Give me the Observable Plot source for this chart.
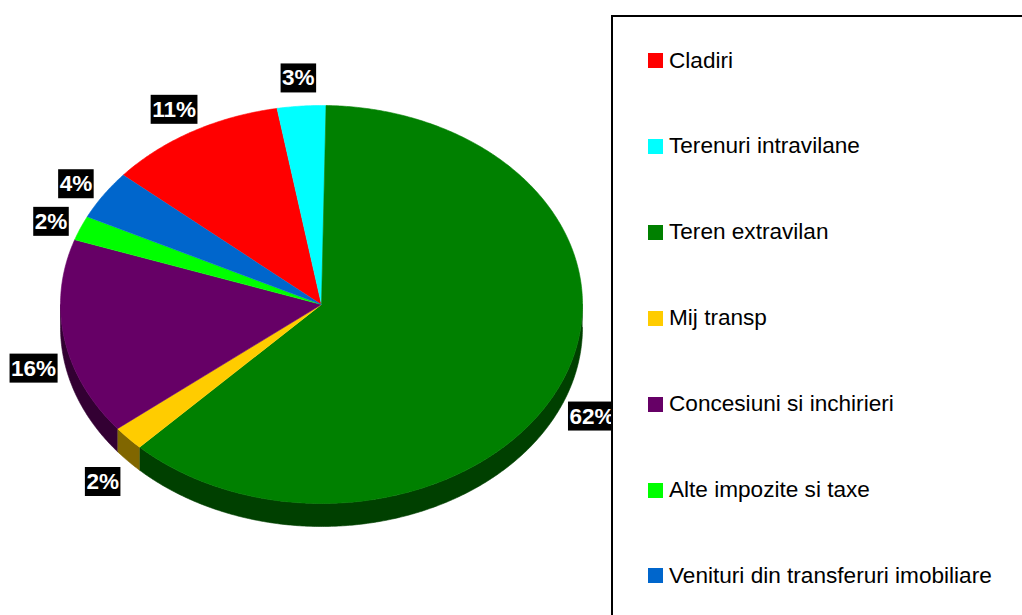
<!DOCTYPE html>
<html><head><meta charset="utf-8">
<script src="https://cdn.jsdelivr.net/npm/d3@7"></script>
<script src="https://cdn.jsdelivr.net/npm/@observablehq/plot@0.6"></script>
<style>
body{margin:0;background:#fff;overflow:hidden;font-family:Arial,"Liberation Sans",sans-serif}
#wrap{position:relative;width:1022px;height:615px;overflow:hidden;background:#fff}
#chart{position:absolute;left:0;top:0}
#legend{position:absolute;left:611px;top:15px;width:480px;height:700px;border:2px solid #000;background:#fff;box-sizing:border-box}
.item{position:absolute;left:35px;height:26px;display:flex;align-items:center;font-size:22.6px;color:#000;white-space:nowrap}
.sw{width:15px;height:15px;margin-right:6px;flex:none}
</style></head><body>
<div id="wrap"><div id="chart"></div><div id="legend"></div></div>
<script>
// ---- data ----
const categories = ["Cladiri","Terenuri intravilane","Teren extravilan","Mij transp","Concesiuni si inchirieri","Alte impozite si taxe","Venituri din transferuri imobiliare"];
const values = [11, 3, 62, 2, 16, 2, 4];
const labels = ["11%","3%","62%","2%","16%","2%","4%"];
const colors = ["#FF0000","#00FFFF","#008000","#FFCC00","#660066","#00FF00","#0066CC"];

// ---- layout ----
const W = 1022, H = 615;
const cx = 321, cy = 304, rx = 261, ry = 199, depth = 23;
const firstSliceAngle = 310.6; // degrees clockwise from 12 o'clock
const depthU = depth / ry;
const rad = d => d * Math.PI / 180;

const total = d3.sum(values);
let acc = firstSliceAngle;
const slices = values.map((v, i) => {
  const a0 = acc, a1 = acc + v / total * 360;
  acc = a1;
  return {i, a0, a1, cat: categories[i], color: colors[i], label: labels[i]};
});

function arcPts(a0, a1, dy = 0) {
  const n = Math.max(2, Math.ceil((a1 - a0) / 0.5));
  const pts = [];
  for (let k = 0; k <= n; k++) {
    const a = rad(a0 + (a1 - a0) * k / n);
    pts.push({x: Math.sin(a), y: Math.cos(a) - dy});
  }
  return pts;
}
function darken(c) {
  const r = d3.rgb(c);
  return d3.rgb(r.r * 0.5, r.g * 0.5, r.b * 0.5).formatHex();
}

const marks = [];
// side walls (front half: 90..270 deg)
for (const s of slices) {
  for (const k of [0, 1]) {
    const lo = Math.max(s.a0, 90 + 360 * k), hi = Math.min(s.a1, 270 + 360 * k);
    if (hi > lo) {
      const top = arcPts(lo, hi, 0);
      const bot = arcPts(lo, hi, depthU).reverse();
      const poly = top.concat(bot);
      const c = darken(s.color);
      marks.push(Plot.line(poly, {x: "x", y: "y", fill: c, stroke: c, strokeWidth: 0.6, curve: "linear"}));
    }
  }
}
// top faces
for (const s of slices) {
  const poly = [{x: 0, y: 0}].concat(arcPts(s.a0, s.a1, 0));
  marks.push(Plot.line(poly, {x: "x", y: "y", fill: s.color, stroke: s.color, strokeWidth: 0.6, curve: "linear"}));
}
// labels
const labelData = slices.map(s => {
  const m = rad((s.a0 + s.a1) / 2);
  let px = Math.sin(m) * rx, py = -Math.cos(m) * ry;
  const base = {px, py: py + (Math.cos(m) < 0 ? depth : 0)};
  const len = Math.hypot(px, py);
  const off = 31;
  const lx = base.px + px / len * off, ly = base.py + py / len * off + 3;
  return {x: lx / rx, y: -ly / ry, label: s.label};
});
marks.push(Plot.text(labelData, {x: "x", y: "y", text: "label", fill: "white", fontWeight: "bold", fontSize: 22.5, fontFamily: "Arial, 'Liberation Sans', sans-serif", textAnchor: "middle", lineAnchor: "middle"}));

const chart = Plot.plot({
  width: W, height: H,
  margin: 0,
  x: {domain: [-1, 1], range: [cx - rx, cx + rx], axis: null},
  y: {domain: [-1, 1], range: [cy + ry, cy - ry], axis: null},
  style: {background: "white", overflow: "visible"},
  marks
});
document.getElementById("chart").appendChild(chart);

// black boxes behind labels
chart.querySelectorAll("text").forEach(t => {
  const b = t.getBBox();
  const r = document.createElementNS("http://www.w3.org/2000/svg", "rect");
  const tr = t.getAttribute("transform");
  if (tr) r.setAttribute("transform", tr);
  r.setAttribute("x", b.x - 1.5);
  r.setAttribute("y", b.y + b.height / 2 - 14.5);
  r.setAttribute("width", b.width + 3);
  r.setAttribute("height", 29);
  r.setAttribute("fill", "black");
  t.parentNode.insertBefore(r, t);
});

// legend
const legend = document.getElementById("legend");
categories.forEach((c, i) => {
  const centerY = 60.5 + i * 85.9;
  const item = document.createElement("div");
  item.className = "item";
  item.style.top = (centerY - 17 - 13) + "px";
  const sw = document.createElement("div");
  sw.className = "sw";
  sw.style.background = colors[i];
  const tx = document.createElement("span");
  tx.textContent = c;
  item.appendChild(sw);
  item.appendChild(tx);
  legend.appendChild(item);
});
</script>
</body></html>
